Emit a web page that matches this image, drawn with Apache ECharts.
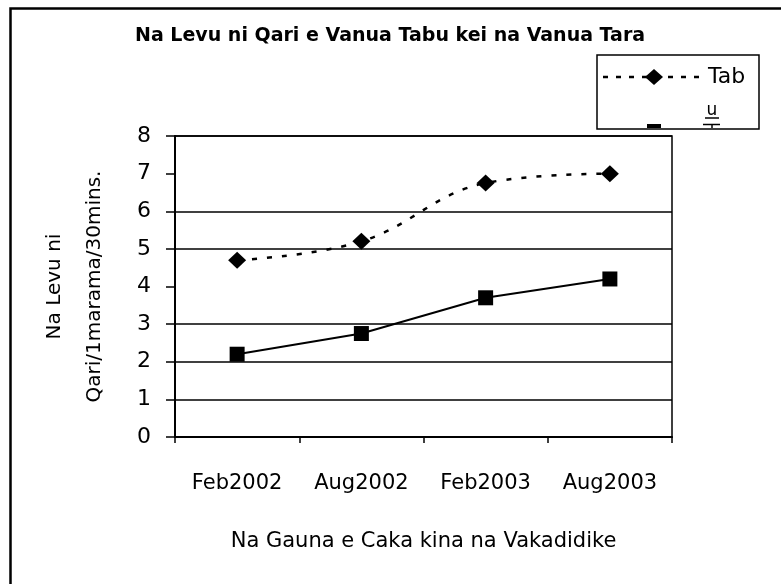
<!DOCTYPE html>
<html>
<head>
<meta charset="utf-8">
<title>Na Levu ni Qari</title>
<script src="https://cdn.jsdelivr.net/npm/echarts@6/dist/echarts.min.js"></script>
<style>
  html, body { margin: 0; padding: 0; background: #fff; }
  #chart { width: 781px; height: 584px; }
</style>
</head>
<body>
<div id="chart"></div>
<script>
// Survey rounds
const categories = ['Feb2002', 'Aug2002', 'Feb2003', 'Aug2003'];
// Catch per person per 30 minutes
const tabuValues = [4.7, 5.2, 6.75, 7.0];
const taraValues = [2.2, 2.75, 3.7, 4.2];
// Value axis ticks and the levels that carry a gridline
const yTicks = [0, 1, 2, 3, 4, 5, 6, 7, 8];
const gridLevels = [0, 1, 2, 3, 5, 6, 8];

const FONT = '"DejaVu Sans", sans-serif';
const splitColors = yTicks.map(v => gridLevels.includes(v) ? '#000' : 'rgba(0,0,0,0)');

const chart = echarts.init(document.getElementById('chart'), null, { renderer: 'canvas' });

chart.setOption({
  backgroundColor: '#fff',
  animation: false,
  title: {
    text: 'Na Levu ni Qari e Vanua Tabu kei na Vanua Tara',
    left: 130,
    top: 22,
    textStyle: { fontFamily: FONT, fontSize: 19, fontWeight: 'bold', color: '#000' }
  },
  grid: {
    left: 175, right: 109, top: 136, bottom: 147,
    show: true, borderColor: '#000', borderWidth: 1.5, backgroundColor: 'transparent'
  },
  xAxis: {
    type: 'category',
    data: categories,
    boundaryGap: true,
    axisLine: { lineStyle: { color: '#000', width: 2 } },
    axisTick: { show: true, length: 6, lineStyle: { color: '#000', width: 1.5 } },
    axisLabel: { margin: 36, fontFamily: FONT, fontSize: 21, color: '#000' },
    splitLine: { show: false },
    name: 'Na Gauna e Caka kina na Vakadidike',
    nameLocation: 'middle',
    nameGap: 94,
    nameTextStyle: { fontFamily: FONT, fontSize: 21, color: '#000' }
  },
  yAxis: {
    type: 'value',
    min: 0, max: 8, interval: 1,
    axisLine: { show: true, lineStyle: { color: '#000', width: 2 } },
    axisTick: { show: true, length: 9, lineStyle: { color: '#000', width: 1.5 } },
    axisLabel: { margin: 24, fontFamily: FONT, fontSize: 22, color: '#000' },
    splitLine: { show: true, lineStyle: { color: splitColors, width: 1.5 } },
    name: 'Na Levu ni\nQari/1marama/30mins.',
    nameLocation: 'middle',
    nameRotate: 90,
    nameGap: 60,
    nameTextStyle: { fontFamily: FONT, fontSize: 20, color: '#000', lineHeight: 40 }
  },
  series: [
    {
      name: 'Tabu',
      type: 'line',
      data: tabuValues,
      smooth: 0.4,
      symbol: 'diamond',
      symbolSize: [18, 17],
      itemStyle: { color: '#000' },
      lineStyle: { color: '#000', width: 2.5, type: [5, 10] },
      z: 3
    },
    {
      name: 'Tara',
      type: 'line',
      data: taraValues,
      symbol: 'rect',
      symbolSize: 15,
      itemStyle: { color: '#000' },
      lineStyle: { color: '#000', width: 2 },
      z: 3
    }
  ],
  graphic: [
    // outer chart frame
    { type: 'rect', shape: { x: 10.5, y: 8.5, width: 800, height: 600 },
      style: { fill: 'none', stroke: '#000', lineWidth: 2.5 }, silent: true },
    // legend box
    { type: 'rect', shape: { x: 597, y: 55, width: 162, height: 74 },
      style: { fill: '#fff', stroke: '#000', lineWidth: 1.5 }, z: 10 },
    { type: 'line', shape: { x1: 603, y1: 77, x2: 705, y2: 77 },
      style: { stroke: '#000', lineWidth: 2.5, lineDash: [5, 8] }, z: 11 },
    { type: 'polygon', shape: { points: [[654, 69], [663, 77], [654, 85], [645, 77]] },
      style: { fill: '#000' }, z: 11 },
    { type: 'text', x: 708, y: 77,
      style: { text: 'Tab', font: '22px ' + FONT, fill: '#000', verticalAlign: 'middle' }, z: 11 },
    { type: 'text', x: 712, y: 111,
      style: { text: 'u', font: '17px ' + FONT, fill: '#000', align: 'center', verticalAlign: 'middle' }, z: 11 },
    { type: 'line', shape: { x1: 705, y1: 118, x2: 719, y2: 118 },
      style: { stroke: '#000', lineWidth: 1.5 }, z: 11 },
    { type: 'line', shape: { x1: 703, y1: 124.5, x2: 720, y2: 124.5 },
      style: { stroke: '#000', lineWidth: 1.5 }, z: 11 },
    { type: 'line', shape: { x1: 712, y1: 124, x2: 712, y2: 128 },
      style: { stroke: '#000', lineWidth: 1.5 }, z: 11 },
    { type: 'rect', shape: { x: 647, y: 124, width: 14, height: 4 },
      style: { fill: '#000' }, z: 11 }
  ]
});
</script>
</body>
</html>
